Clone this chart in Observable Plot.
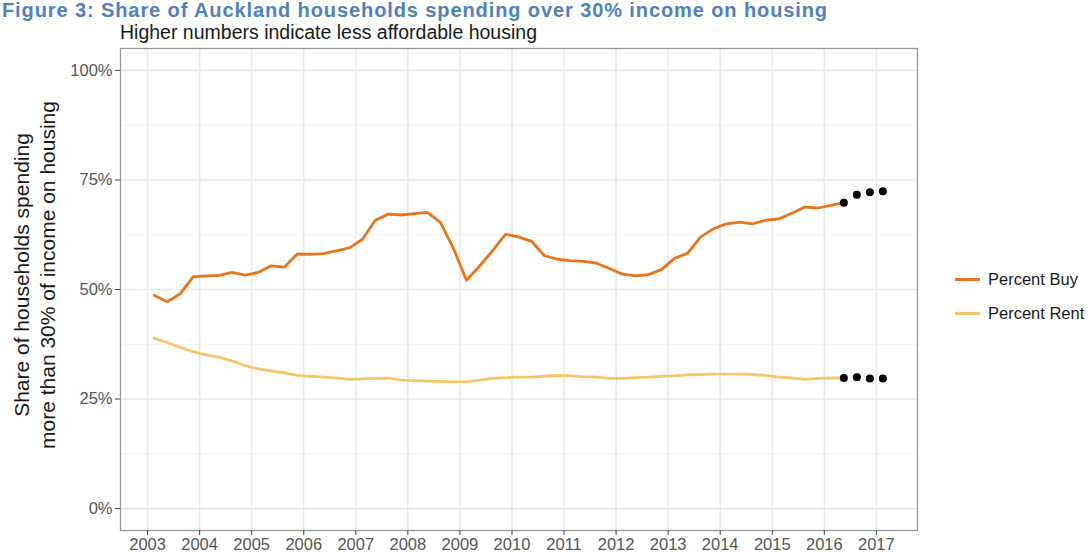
<!DOCTYPE html>
<html>
<head>
<meta charset="utf-8">
<script src="https://cdn.jsdelivr.net/npm/d3@7"></script>
<script src="https://cdn.jsdelivr.net/npm/@observablehq/plot@0.6"></script>
<style>
  html, body { margin: 0; padding: 0; background: #fff; }
  #wrap { position: relative; width: 1088px; height: 552px; overflow: hidden; font-family: "Liberation Sans", Arial, sans-serif; }
  #chart { position: absolute; left: 0; top: 0; }
  .title { position: absolute; left: 2px; top: 0px; font-size: 20px; line-height: 1; letter-spacing: 0.9px; font-weight: bold; color: #4f81bd; white-space: nowrap; }
  .subtitle { position: absolute; left: 120px; top: 23px; font-size: 19.5px; line-height: 1; color: #1a1a1a; white-space: nowrap; }
  .ylab { position: absolute; left: 35px; top: 275px; width: 0; height: 0; }
  .ylab div { position: absolute; transform: translate(-50%, -50%) rotate(-90deg); text-align: center; white-space: nowrap; font-size: 21px; line-height: 26px; color: #1a1a1a; }
  .legend { position: absolute; left: 955px; top: 262px; font-size: 16.5px; color: #1a1a1a; }
  .legend .row { display: flex; align-items: center; height: 34px; }
  .legend .sw { width: 25px; height: 3px; margin-right: 8px; }
</style>
</head>
<body>
<div id="wrap">
  <div id="chart"></div>
  <div class="title">Figure 3: Share of Auckland households spending over 30% income on housing</div>
  <div class="subtitle">Higher numbers indicate less affordable housing</div>
  <div class="ylab"><div>Share of households spending<br>more than 30% of income on housing</div></div>
  <div class="legend" id="legend"></div>
</div>
<script>
// ---- data ----
const quarters = [
  "2003Q1","2003Q2","2003Q3","2003Q4","2004Q1","2004Q2","2004Q3","2004Q4",
  "2005Q1","2005Q2","2005Q3","2005Q4","2006Q1","2006Q2","2006Q3","2006Q4",
  "2007Q1","2007Q2","2007Q3","2007Q4","2008Q1","2008Q2","2008Q3","2008Q4",
  "2009Q1","2009Q2","2009Q3","2009Q4","2010Q1","2010Q2","2010Q3","2010Q4",
  "2011Q1","2011Q2","2011Q3","2011Q4","2012Q1","2012Q2","2012Q3","2012Q4",
  "2013Q1","2013Q2","2013Q3","2013Q4","2014Q1","2014Q2","2014Q3","2014Q4",
  "2015Q1","2015Q2","2015Q3","2015Q4","2016Q1","2016Q2"
];
const percentBuy = [
  48.7, 47.2, 49.0, 52.9, 53.1, 53.2, 53.9, 53.3,
  53.9, 55.4, 55.1, 58.1, 58.0, 58.2, 58.8, 59.5,
  61.4, 65.8, 67.2, 67.0, 67.3, 67.6, 65.3, 59.4,
  52.1, 55.3, 58.8, 62.6, 62.0, 61.0, 57.7, 56.9,
  56.6, 56.4, 56.0, 54.8, 53.5, 53.1, 53.4, 54.6,
  57.1, 58.3, 62.0, 63.9, 65.0, 65.4, 65.0, 65.8,
  66.1, 67.4, 68.8, 68.6, 69.2, 69.8
];
const percentRent = [
  38.9, 37.9, 36.8, 35.8, 35.1, 34.5, 33.7, 32.6,
  31.9, 31.4, 31.0, 30.4, 30.2, 30.0, 29.8, 29.5,
  29.6, 29.7, 29.8, 29.3, 29.2, 29.1, 29.0, 28.9,
  28.9, 29.3, 29.7, 29.9, 30.0, 30.0, 30.2, 30.4,
  30.3, 30.1, 30.0, 29.7, 29.7, 29.9, 30.0, 30.2,
  30.3, 30.5, 30.6, 30.7, 30.7, 30.7, 30.6, 30.4,
  30.0, 29.8, 29.5, 29.7, 29.8, 29.8
];
const forecastQuarters = ["2016Q2","2016Q3","2016Q4","2017Q1"];
const forecastBuy  = [69.8, 71.6, 72.2, 72.4];
const forecastRent = [29.8, 30.0, 29.7, 29.7];
const seriesNames = ["Percent Buy", "Percent Rent"];
const seriesColors = ["#e8751a", "#f8c66a"];
const yearTicks = [2003,2004,2005,2006,2007,2008,2009,2010,2011,2012,2013,2014,2015,2016,2017];
const yTicks = [0, 25, 50, 75, 100];
const yMinor = [12.5, 37.5, 62.5, 87.5];

// quarter label -> mid-quarter decimal year
const qToYear = q => +q.slice(0,4) + (+q.slice(5) - 1) * 0.25 + 0.125;

const lineData = [];
quarters.forEach((q, i) => {
  lineData.push({t: qToYear(q), v: percentBuy[i], s: seriesNames[0]});
});
quarters.forEach((q, i) => {
  lineData.push({t: qToYear(q), v: percentRent[i], s: seriesNames[1]});
});
const dotData = [];
forecastQuarters.forEach((q, i) => {
  dotData.push({t: qToYear(q), v: forecastBuy[i]});
  dotData.push({t: qToYear(q), v: forecastRent[i]});
});

const chart = Plot.plot({
  width: 1088,
  height: 552,
  marginLeft: 120,
  marginRight: 171,
  marginTop: 48,
  marginBottom: 22,
  style: {fontFamily: "Liberation Sans, Arial, sans-serif", fontSize: "16.5px", color: "#555", background: "transparent"},
  x: {domain: [2002.48, 2017.79], label: null},
  y: {domain: [-5, 105], label: null},
  color: {domain: seriesNames, range: seriesColors},
  marks: [
    Plot.ruleY(yMinor, {stroke: "#f0f0f0", strokeWidth: 0.9}),
    Plot.ruleY(yTicks, {stroke: "#e8e8e8", strokeWidth: 1.6}),
    Plot.ruleX(yearTicks, {stroke: "#e8e8e8", strokeWidth: 1.6}),
    Plot.line(lineData, {x: "t", y: "v", z: "s", stroke: "s", strokeWidth: 2.8, curve: "linear"}),
    Plot.dot(dotData, {x: "t", y: "v", r: 4, fill: "black", stroke: "none"}),
    Plot.frame({stroke: "#999", strokeWidth: 1.3}),
    Plot.axisX({ticks: yearTicks, tickFormat: d => String(d), tickSize: 5, tickPadding: 3, stroke: "#444", label: null}),
    Plot.axisY({ticks: yTicks, tickFormat: d => d + "%", tickSize: 5, tickPadding: 3, stroke: "#444", label: null})
  ]
});
document.getElementById("chart").appendChild(chart);

const legend = document.getElementById("legend");
seriesNames.forEach((name, i) => {
  const row = document.createElement("div");
  row.className = "row";
  const sw = document.createElement("div");
  sw.className = "sw";
  sw.style.background = seriesColors[i];
  const lab = document.createElement("span");
  lab.textContent = name;
  row.appendChild(sw);
  row.appendChild(lab);
  legend.appendChild(row);
});
</script>
</body>
</html>
